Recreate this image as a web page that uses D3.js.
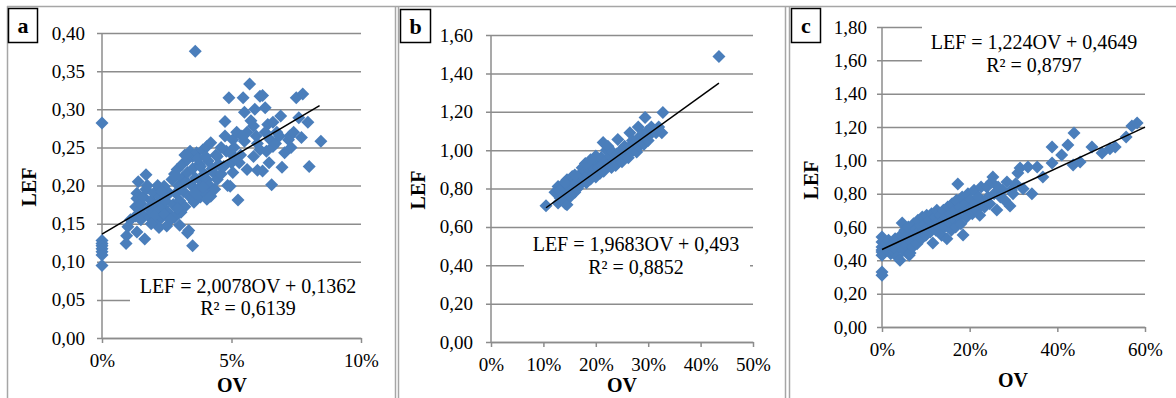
<!DOCTYPE html>
<html>
<head>
<meta charset="utf-8">
<script src="https://cdn.jsdelivr.net/npm/d3@7"></script>
<style>
  body { margin: 0; background: #fff; }
  svg { display: block; font-family: "Liberation Serif", "Times New Roman", serif; }
</style>
</head>
<body>
<svg id="chart" width="1176" height="398"></svg>
<script>
// ---- data: [OV in %, LEF] ----
const pointsA = [
  [0,0.282],[0,0.128],[0,0.124],[0,0.121],[0,0.117],[0,0.113],[0,0.109],[0,0.095],
  [0.95,0.134],[0.93,0.124],[1.0,0.146],[1.1,0.155],
  [1.35,0.139],[1.3,0.16],[1.3,0.172],[1.35,0.19],[1.4,0.205],[1.35,0.183],[1.45,0.168],[1.5,0.176],
  [1.55,0.162],[1.6,0.185],[1.65,0.13],[1.7,0.214],[1.7,0.195],[1.5,0.155],
  [1.8,0.17],[1.85,0.158],[1.9,0.18],[1.95,0.165],[2.0,0.19],[2.05,0.152],[2.1,0.176],[2.15,0.2],
  [2.2,0.168],[2.25,0.185],[2.3,0.158],[2.35,0.172],[2.4,0.199],[2.45,0.18],[2.5,0.147],[2.55,0.165],
  [2.6,0.19],[1.75,0.2],[2.0,0.16],[2.2,0.145],[2.4,0.162],[1.9,0.15],[2.3,0.192],
  [2.7,0.208],[2.75,0.175],[2.8,0.158],[2.85,0.19],[2.9,0.221],[2.95,0.2],[3.0,0.18],[3.05,0.165],
  [3.1,0.228],[3.1,0.21],[3.15,0.192],[3.2,0.172],[3.25,0.205],[3.3,0.234],[3.3,0.217],[3.3,0.138],
  [3.35,0.141],[3.4,0.185],[3.45,0.2],[3.5,0.238],[3.5,0.121],[3.5,0.222],[3.55,0.178],[2.65,0.155],
  [2.9,0.17],[3.0,0.148],[3.2,0.24],[3.4,0.245],[2.8,0.215],
  [3.6,0.376],[3.6,0.21],[3.65,0.243],[3.7,0.195],[3.75,0.228],[3.8,0.225],[3.8,0.185],[3.85,0.205],
  [3.9,0.247],[3.95,0.215],[4.0,0.19],[4.05,0.251],[4.05,0.208],[4.05,0.182],[4.1,0.232],[4.15,0.2],
  [4.2,0.256],[4.25,0.222],[4.3,0.217],[4.35,0.195],[4.4,0.24],[4.45,0.238],[4.45,0.208],[4.5,0.228],
  [3.7,0.235],[3.9,0.198],[4.2,0.186],[4.0,0.238],[3.6,0.19],
  [4.6,0.215],[4.7,0.225],[4.75,0.265],[4.75,0.284],[4.8,0.245],[4.85,0.2],[4.9,0.315],[4.95,0.243],
  [4.95,0.199],[5.0,0.23],[5.05,0.26],[5.05,0.217],[5.1,0.25],[5.2,0.27],[5.25,0.181],[5.3,0.23],
  [5.35,0.24],[5.45,0.315],[5.5,0.296],[5.5,0.258],[5.6,0.221],[5.6,0.27],[4.6,0.25],[5.15,0.235],[5.4,0.265],
  [5.7,0.333],[5.75,0.285],[5.85,0.278],[5.85,0.238],[5.9,0.3],[6.0,0.255],[6.1,0.317],[6.1,0.247],
  [6.2,0.318],[6.2,0.219],[6.3,0.302],[6.35,0.245],[6.4,0.28],[6.5,0.26],[6.55,0.201],[6.6,0.283],
  [6.6,0.251],[6.75,0.27],[6.9,0.291],[6.95,0.224],[6.0,0.22],[6.45,0.23],[6.7,0.255],[6.85,0.265],
  [5.95,0.265],[6.3,0.27],
  [7.05,0.243],[7.2,0.26],[7.25,0.265],[7.4,0.27],[7.5,0.315],[7.6,0.289],[7.7,0.263],[7.75,0.32],
  [7.95,0.283],[8.0,0.225],[8.45,0.258],[7.3,0.25]
];

const pointsB = [
  [10.5,0.71],[12.2,0.78],[12.8,0.81],[12.8,0.725],[13.2,0.75],[13.5,0.77],[13.8,0.8],[14.0,0.74],
  [14.2,0.72],[14.5,0.846],[14.5,0.715],[14.8,0.78],[15.0,0.82],[15.2,0.76],[15.5,0.862],[15.5,0.8],
  [15.8,0.84],[16.0,0.78],[16.2,0.83],[16.5,0.86],[16.5,0.8],[16.8,0.85],[17.0,0.82],[17.2,0.88],
  [17.4,0.908],[17.5,0.84],[17.8,0.86],[18.0,0.89],[18.2,0.83],[18.5,0.87],[18.8,0.9],[19.0,0.85],
  [19.2,0.92],[19.5,0.88],[19.8,0.9],[20.0,0.86],[20.2,0.94],[20.5,0.91],[20.8,0.88],[21.0,0.96],
  [21.2,0.92],[21.4,1.04],[21.5,0.89],[21.8,0.94],[22.0,1.0],[22.3,1.02],[22.5,0.93],[22.8,0.97],
  [23.0,0.91],[23.2,0.99],[23.5,0.95],[23.8,0.92],[24.0,0.98],[24.2,1.055],[24.5,0.96],[24.8,1.0],
  [25.0,0.94],[25.3,0.98],[25.5,1.02],[25.8,0.97],[26.0,1.0],[26.2,0.96],[26.5,1.09],[26.5,1.02],
  [26.8,0.99],[27.0,1.05],[27.3,1.01],[27.5,1.04],[27.8,0.99],[28.1,1.12],[28.0,1.06],[28.3,1.02],
  [28.6,1.05],[29.0,1.08],[29.2,1.03],[29.4,1.17],[29.5,1.06],[29.8,1.1],[30.0,1.05],[30.3,1.08],
  [30.6,1.12],[31.0,1.1],[31.5,1.09],[32.0,1.12],[32.6,1.09],[32.8,1.196],
  [14.0,0.83],[16.0,0.87],[18.0,0.93],[20.0,0.97],[19.0,0.95],[13.0,0.79],[43.5,1.488]
];

const pointsC = [
  [0,0.33],[0,0.31],[0,0.54],[0,0.51],[0,0.48],[0,0.462],[0,0.45],[0,0.43],
  [1,0.5],[1.2,0.46],[1.5,0.52],[2,0.44],[2,0.48],[2.5,0.5],[2.8,0.45],[3,0.53],[3.2,0.47],[3.5,0.42],
  [3.8,0.5],[4.1,0.4],[4.3,0.55],[4.6,0.624],[4.8,0.46],[5,0.52],[5.2,0.58],[5.5,0.49],[5.8,0.55],
  [6,0.6],[6.2,0.43],[6.4,0.444],[6.5,0.52],[6.8,0.57],[7,0.48],[7.2,0.62],[7.5,0.55],[7.8,0.59],
  [8,0.5],[8.2,0.64],[8.5,0.57],[8.8,0.61],[9,0.53],[9.2,0.66],[9.5,0.58],[9.8,0.62],[10,0.55],
  [10.2,0.67],[10.5,0.6],[10.8,0.64],[11,0.57],[11.3,0.68],[11.6,0.504],[11.8,0.62],[12,0.66],
  [12.3,0.58],[12.5,0.7],[12.8,0.63],[13,0.6],[13.3,0.67],[13.6,0.55],[13.8,0.64],[14,0.7],
  [14.3,0.6],[14.6,0.66],[14.8,0.53],[15,0.72],[15.3,0.63],[15.6,0.68],[15.8,0.58],[16,0.74],
  [16.3,0.65],[16.6,0.7],[16.8,0.6],[17,0.76],[17.3,0.858],[17.5,0.66],[17.8,0.72],[18,0.62],
  [18.3,0.78],[18.5,0.552],[18.8,0.7],[19,0.74],[19.3,0.66],[19.6,0.8],[20,0.71],[20.3,0.76],
  [20.6,0.68],[21,0.82],[21.3,0.74],[21.6,0.7],[22,0.78],[22.3,0.67],[22.6,0.84],[23,0.75],
  [23.4,0.72],[23.9,0.84],[24.2,0.78],[24.6,0.74],[25,0.87],[25.3,0.9],[25.6,0.8],[26.2,0.702],
  [26.5,0.84],[27,0.78],[27.5,0.82],[28,0.76],[28.5,0.87],[29.2,0.726],[29.5,0.82],[29.9,0.8],
  [30.5,0.86],[31,0.924],[31.5,0.954],[32.2,0.83],[33.3,0.96],[34.2,0.8],[35.4,0.96],[36.7,0.9],
  [38.8,0.984],[38.8,1.08],[41,1.032],[42.4,1.092],[43.6,0.972],[43.8,1.164],[45.2,0.99],[47.9,1.08],
  [50.2,1.044],[52,1.07],[53.2,1.08],[55.7,1.14],[57,1.206],[58.2,1.224]
];

// trendline: [slope, intercept] (OV as fraction), drawn over [from%, to%]
const trendA = [2.0078, 0.1362], spanA = [0, 8.4];
const trendB = [1.9683, 0.493],  spanB = [10.5, 43.5];
const trendC = [1.224, 0.4649],  spanC = [0, 60];

const eqA = ["LEF = 2,0078OV + 0,1362", "R² = 0,6139"];
const eqB = ["LEF = 1,9683OV + 0,493", "R² = 0,8852"];
const eqC = ["LEF = 1,224OV + 0,4649", "R² = 0,8797"];

const yTicksA = [0, 0.05, 0.10, 0.15, 0.20, 0.25, 0.30, 0.35, 0.40];
const yTicksB = [0, 0.2, 0.4, 0.6, 0.8, 1.0, 1.2, 1.4, 1.6];
const yTicksC = [0, 0.2, 0.4, 0.6, 0.8, 1.0, 1.2, 1.4, 1.6, 1.8];
const xTicksA = [0, 5, 10];
const xTicksB = [0, 10, 20, 30, 40, 50];
const xTicksC = [0, 20, 40, 60];

const panelLabels = ["a", "b", "c"];

// ---- layout ----
const svg = d3.select("#chart");
const gridColor = "#8c8c8c";
const blue = "#4a7ebb";
const diamond = "M0,-6.5L6.5,0L0,6.5L-6.5,0Z";
const fmtY = v => d3.format(".2f")(v).replace(".", ",");

// panel frames
const frameColor = "#a6a6a6";
svg.append("line").attr("x1", 7).attr("x2", 1176).attr("y1", 6.5).attr("y2", 6.5)
  .attr("stroke", frameColor).attr("stroke-width", 1.5);
[7.5, 395.5, 398.5, 785.5, 789.5].forEach(fx => {
  svg.append("line").attr("x1", fx).attr("x2", fx).attr("y1", 6).attr("y2", 398)
    .attr("stroke", frameColor).attr("stroke-width", 1.5);
});

const panels = [
  { label: panelLabels[0], box: [8, 8, 29, 34], points: pointsA, trend: trendA, span: spanA, eq: eqA,
    xMax: 10, yMax: 0.4, xTicks: xTicksA, yTicks: yTicksA,
    left: 102, right: 361, top: 33, bottom: 338, yLabRight: 85, xLabBase: 367,
    lefX: 36, lefY: 187, ovX: 232, ovY: 392,
    eqBox: [130, 272, 236, 58], eqX: 248, eqY: [293, 315] },
  { label: panelLabels[1], box: [400, 9, 30, 33], points: pointsB, trend: trendB, span: spanB, eq: eqB,
    xMax: 50, yMax: 1.6, xTicks: xTicksB, yTicks: yTicksB,
    left: 491, right: 753, top: 35, bottom: 342, yLabRight: 473, xLabBase: 371,
    lefX: 425, lefY: 190, ovX: 622, ovY: 392,
    eqBox: [524, 232, 226, 50], eqX: 636, eqY: [251, 274] },
  { label: panelLabels[2], box: [791, 8, 29, 34], points: pointsC, trend: trendC, span: spanC, eq: eqC,
    xMax: 60, yMax: 1.8, xTicks: xTicksC, yTicks: yTicksC,
    left: 882, right: 1145, top: 27, bottom: 327, yLabRight: 867, xLabBase: 356,
    lefX: 818, lefY: 180, ovX: 1013, ovY: 387,
    eqBox: [922, 18, 230, 66], eqX: 1034, eqY: [49, 72] }
];

panels.forEach(p => {
  const x = d3.scaleLinear().domain([0, p.xMax]).range([p.left, p.right]);
  const y = d3.scaleLinear().domain([0, p.yMax]).range([p.bottom, p.top]);
  const g = svg.append("g");

  // horizontal gridlines + y tick labels
  g.append("g")
    .attr("transform", `translate(${p.left},0)`)
    .call(d3.axisLeft(y).tickValues(p.yTicks).tickSize(-(p.right - p.left)).tickSizeOuter(0).tickFormat(fmtY))
    .call(a => {
      a.attr("font-family", null).attr("font-size", null);
      a.select(".domain").remove();
      a.selectAll("line").attr("x1", -5).attr("stroke", gridColor).attr("stroke-width", 1.5);
      a.selectAll("text").attr("x", p.yLabRight - p.left).attr("font-size", 19).attr("fill", "#000");
    });

  // x axis
  g.append("g")
    .attr("transform", `translate(0,${p.bottom})`)
    .call(d3.axisBottom(x).tickValues(p.xTicks).tickSize(5).tickSizeOuter(0).tickFormat(d => d + "%"))
    .call(a => {
      a.attr("font-family", null).attr("font-size", null);
      a.select(".domain").attr("stroke", gridColor).attr("stroke-width", 1.5);
      a.selectAll("line").attr("stroke", gridColor).attr("stroke-width", 1.5);
      a.selectAll("text").attr("y", p.xLabBase - p.bottom).attr("dy", 0).attr("font-size", 19).attr("fill", "#000");
    });

  // y axis line
  g.append("line").attr("x1", p.left).attr("x2", p.left).attr("y1", p.top).attr("y2", p.bottom)
    .attr("stroke", gridColor).attr("stroke-width", 1.5);

  // trendline label background
  g.append("rect").attr("x", p.eqBox[0]).attr("y", p.eqBox[1])
    .attr("width", p.eqBox[2]).attr("height", p.eqBox[3]).attr("fill", "#fff");

  // points
  g.append("g").selectAll("path")
    .data(p.points)
    .join("path")
    .attr("d", diamond)
    .attr("transform", d => `translate(${x(d[0])},${y(d[1])})`)
    .attr("fill", blue);

  // trendline
  g.append("path")
    .datum(p.span.map(v => [v, p.trend[0] * v / 100 + p.trend[1]]))
    .attr("fill", "none")
    .attr("stroke", "#000")
    .attr("stroke-width", 1.5)
    .attr("d", d3.line().x(d => x(d[0])).y(d => y(d[1])));

  // equation text
  g.selectAll("text.eq")
    .data(p.eq)
    .join("text")
    .attr("class", "eq")
    .attr("x", p.eqX)
    .attr("y", (d, i) => p.eqY[i])
    .attr("text-anchor", "middle")
    .attr("font-size", 20)
    .text(d => d);

  // axis titles
  g.append("text")
    .attr("transform", `translate(${p.lefX},${p.lefY}) rotate(-90)`)
    .attr("text-anchor", "middle")
    .attr("font-size", 20).attr("font-weight", "bold")
    .text("LEF");
  g.append("text")
    .attr("x", p.ovX).attr("y", p.ovY)
    .attr("text-anchor", "middle")
    .attr("font-size", 20).attr("font-weight", "bold")
    .text("OV");

  // panel letter box
  g.append("rect").attr("x", p.box[0] + 0.5).attr("y", p.box[1] + 0.5)
    .attr("width", p.box[2]).attr("height", p.box[3])
    .attr("fill", "#fff").attr("stroke", "#000").attr("stroke-width", 1.5);
  g.append("text")
    .attr("x", p.box[0] + p.box[2] / 2 + 0.5).attr("y", p.box[1] + 25)
    .attr("text-anchor", "middle")
    .attr("font-size", 22).attr("font-weight", "bold")
    .text(p.label);
});
</script>
</body>
</html>
